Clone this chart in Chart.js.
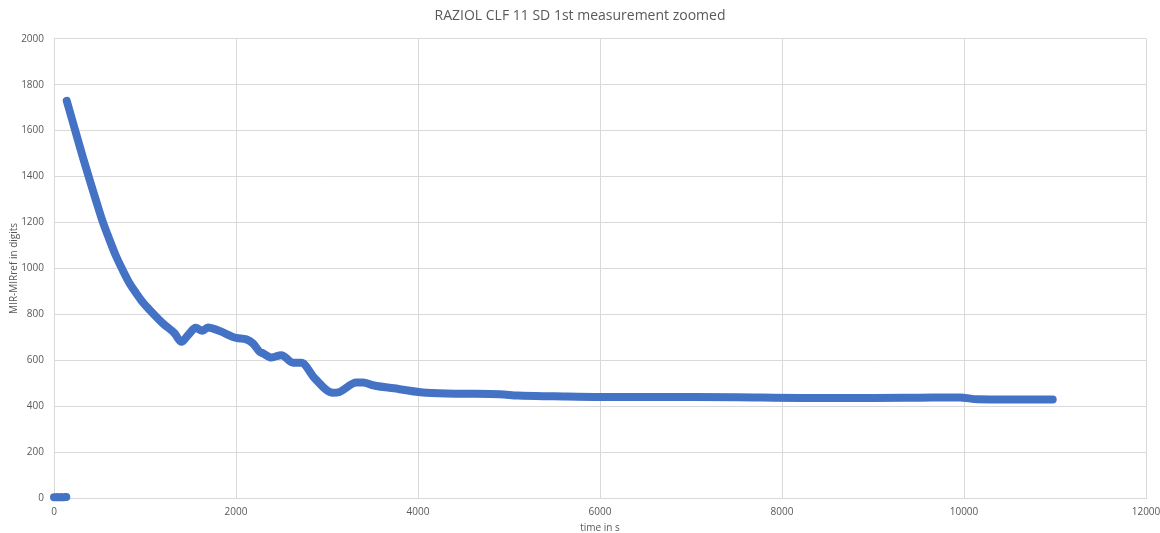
<!DOCTYPE html>
<html>
<head>
<meta charset="utf-8">
<script src="https://cdn.jsdelivr.net/npm/chart.js@4/dist/chart.umd.min.js"></script>
<style>
    html, body { margin: 0; padding: 0; background: #ffffff; }
    #wrap { width: 1160px; height: 533px; }
</style>
</head>
<body>
<div id="wrap"><canvas id="mirChart" width="1160" height="533"></canvas></div>
<script>
// 시작 구간 (측정 전, 값 0 근처)
const startTimes = [0, 20, 40, 60, 80, 100, 120, 135];
const startValues = [3, 3, 4, 3, 4, 3, 4, 4];

// 본 측정 구간: 시간(s) / MIR-MIRref (digits)
const times = [140, 230, 320, 400, 470, 530, 600, 680, 758, 830, 905, 980, 1052, 1198, 1326, 1400, 1473, 1557, 1631, 1692, 1821, 2004, 2114, 2187, 2260, 2297, 2389, 2499, 2627, 2718, 2865, 3066, 3139, 3323, 3396, 3506, 3799, 4092, 4500, 4898, 5100, 5500, 6000, 7000, 7500, 8200, 9000, 9500, 9950, 10150, 10500, 10975];
const values = [1730, 1605, 1480, 1375, 1285, 1210, 1135, 1055, 990, 935, 891, 850, 819, 760, 717, 680, 709, 741, 728, 743, 727, 697, 691, 673, 637, 630, 612, 622, 589, 589, 521, 458, 462, 503, 503, 491, 474, 458, 454, 452, 446, 443, 440, 440, 439, 436, 436, 437, 438, 430, 429, 429];

// 축 눈금
const xTicks = [0, 2000, 4000, 6000, 8000, 10000, 12000];
const yTicks = [0, 200, 400, 600, 800, 1000, 1200, 1400, 1600, 1800, 2000];

const blue = '#4472C4';
const gridColor = '#d9d9d9';
const textColor = '#595959';

function toPoints(xs, ys) {
    return xs.map((x, i) => ({ x: x, y: ys[i] }));
}

const lineStyle = {
    showLine: true,
    borderColor: blue,
    backgroundColor: blue,
    borderWidth: 8,
    borderCapStyle: 'round',
    borderJoinStyle: 'round',
    pointRadius: 0,
    cubicInterpolationMode: 'monotone',
    clip: 10,
};

const ctx = document.getElementById('mirChart').getContext('2d');

new Chart(ctx, {
    type: 'scatter',
    data: {
        datasets: [
            Object.assign({ label: 'start', data: toPoints(startTimes, startValues) }, lineStyle),
            Object.assign({ label: 'MIR-MIRref', data: toPoints(times, values) }, lineStyle),
        ]
    },
    options: {
        responsive: false,
        animation: false,
        layout: { padding: 0 },
        plugins: {
            legend: { display: false },
            tooltip: { enabled: false },
            title: {
                display: true,
                text: 'RAZIOL CLF 11 SD 1st measurement zoomed',
                color: textColor,
                font: { family: 'Open Sans', size: 14, weight: 'normal' },
                padding: { top: 8, bottom: 14 },
            },
        },
        scales: {
            x: {
                type: 'linear',
                min: 0,
                max: 12000,
                afterBuildTicks: axis => { axis.ticks = xTicks.map(v => ({ value: v })); },
                afterFit: axis => {
                    // 오른쪽 여백은 축 패딩으로 (제목은 캔버스 중앙 정렬 유지)
                    axis.height = 35;
                    axis.paddingLeft = 0;
                    axis.paddingRight = 14;
                },
                grid: { color: gridColor, drawTicks: false },
                border: { color: gridColor },
                ticks: {
                    color: textColor,
                    padding: 8,
                    font: { family: 'Open Sans', size: 10 },
                    maxRotation: 0,
                    callback: v => String(v),
                },
                title: {
                    display: true,
                    text: 'time in s',
                    color: textColor,
                    font: { family: 'Open Sans', size: 10, lineHeight: 1 },
                    padding: 0,
                },
            },
            y: {
                type: 'linear',
                min: 0,
                max: 2000,
                afterBuildTicks: axis => { axis.ticks = yTicks.map(v => ({ value: v })); },
                afterFit: axis => { axis.width = 54; },
                grid: { color: gridColor, drawTicks: false },
                border: { color: gridColor },
                ticks: {
                    color: textColor,
                    padding: 10,
                    font: { family: 'Open Sans', size: 10 },
                    callback: v => String(v),
                },
                title: {
                    display: true,
                    text: 'MIR-MIRref in digits',
                    color: textColor,
                    font: { family: 'Open Sans', size: 10, lineHeight: 1 },
                    padding: { top: 9, bottom: 0 },
                },
            },
        },
    },
});
</script>
</body>
</html>
